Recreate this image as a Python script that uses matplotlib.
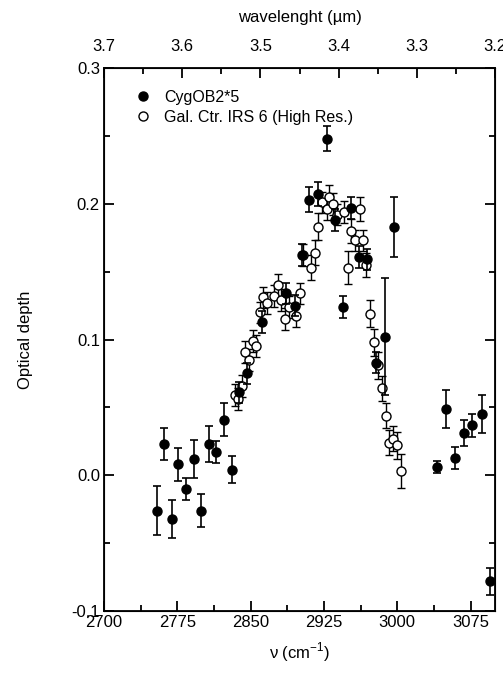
import numpy as np
import matplotlib.pyplot as plt
from matplotlib.lines import Line2D
from matplotlib.ticker import MultipleLocator, FixedLocator, FuncFormatter

plt.rcParams['font.family'] = ['Liberation Sans', 'DejaVu Sans']
plt.rcParams['mathtext.fontset'] = 'custom'
plt.rcParams['mathtext.rm'] = 'Liberation Sans'

# CygOB2*5 (filled)
cyg_nu = [2754, 2761.7, 2769, 2776, 2784, 2791.7, 2799.5, 2807, 2815, 2823, 2830.5,
          2838, 2846, 2862, 2886, 2895.6, 2903, 2910, 2919, 2927.7, 2936.5, 2944.5,
          2952.6, 2961, 2969, 2978, 2987, 2996.5, 3041, 3050, 3059, 3068, 3077,
          3086.5, 3095]
cyg_tau = [-0.026, 0.023, -0.032, 0.008, -0.010, 0.012, -0.026, 0.023, 0.017, 0.041, 0.004,
           0.061, 0.075, 0.113, 0.134, 0.125, 0.162, 0.203, 0.207, 0.248, 0.188, 0.124,
           0.197, 0.161, 0.159, 0.083, 0.102, 0.183, 0.006, 0.049, 0.013, 0.031, 0.037,
           0.045, -0.078]
cyg_err = [0.018, 0.012, 0.014, 0.012, 0.008, 0.014, 0.012, 0.013, 0.008, 0.012, 0.010,
           0.008, 0.008, 0.008, 0.008, 0.008, 0.008, 0.009, 0.009, 0.009, 0.008, 0.008,
           0.008, 0.008, 0.008, 0.008, 0.043, 0.022, 0.0045, 0.014, 0.008, 0.0095, 0.0085,
           0.014, 0.010]

# Gal. Ctr. IRS 6 (open)
gc_nu = [2834, 2837, 2841, 2844, 2848.6, 2852.7, 2855, 2859.5, 2863, 2867, 2874, 2878,
         2881.5, 2885.6, 2888.8, 2896.3, 2900.2, 2903.5, 2911.5, 2915.5, 2919, 2923,
         2927.7, 2930.5, 2934, 2938.5, 2945.5, 2949.5, 2953, 2957, 2961.5, 2965, 2968,
         2972.6, 2976, 2980.5, 2984.5, 2988, 2991.7, 2996, 3000, 3003.7]
gc_tau = [0.059, 0.056, 0.066, 0.091, 0.085, 0.099, 0.095, 0.120, 0.131, 0.127, 0.132, 0.140,
          0.129, 0.115, 0.124, 0.117, 0.134, 0.162, 0.153, 0.164, 0.183, 0.201,
          0.196, 0.205, 0.200, 0.192, 0.194, 0.153, 0.180, 0.173, 0.196, 0.173, 0.155,
          0.119, 0.098, 0.081, 0.064, 0.044, 0.024, 0.027, 0.022, 0.003]
gc_err = [0.008, 0.008, 0.008, 0.008, 0.008, 0.008, 0.008, 0.008, 0.008, 0.008, 0.008, 0.008,
          0.008, 0.008, 0.008, 0.008, 0.008, 0.008, 0.009, 0.009, 0.010, 0.008,
          0.008, 0.009, 0.008, 0.008, 0.008, 0.012, 0.009, 0.008, 0.009, 0.008, 0.009,
          0.010, 0.010, 0.010, 0.009, 0.009, 0.009, 0.009, 0.010, 0.0125]

fig = plt.figure(figsize=(5.03, 6.73), dpi=100)
ax = fig.add_axes([0.207, 0.092, 0.777, 0.807])

ax.errorbar(gc_nu, gc_tau, yerr=gc_err, fmt='o', mfc='white', mec='black', mew=1.0,
            ms=6.5, ecolor='black', elinewidth=1.0, capsize=3, capthick=1.0, zorder=2)
ax.errorbar(cyg_nu, cyg_tau, yerr=cyg_err, fmt='o', mfc='black', mec='black',
            ms=6.5, ecolor='black', elinewidth=1.2, capsize=3, capthick=1.2, zorder=3)

ax.set_xlim(2700, 3100)
ax.set_ylim(-0.1, 0.3)
ax.xaxis.set_major_locator(FixedLocator([2700, 2775, 2850, 2925, 3000, 3075]))
ax.xaxis.set_minor_locator(FixedLocator(np.arange(2737.5, 3100, 75)))
ax.yaxis.set_major_locator(MultipleLocator(0.1))
ax.yaxis.set_minor_locator(MultipleLocator(0.05))
ax.yaxis.set_major_formatter(FuncFormatter(lambda v, p: '%.1f' % v))
ax.tick_params(which='both', direction='in', right=True, width=1.3, labelsize=12)
ax.tick_params(which='major', length=7)
ax.tick_params(which='minor', length=4)
ax.tick_params(axis='x', pad=3)
ax.tick_params(axis='y', pad=3)
for s in ax.spines.values():
    s.set_linewidth(1.3)

ax.set_xlabel('\u03bd (cm$^{-1}$)', fontsize=12, labelpad=7)
ax.set_ylabel('Optical depth', fontsize=12, labelpad=28)

top = ax.twiny()
top.set_xlim(3.7, 3.2)
top.xaxis.set_major_locator(MultipleLocator(0.1))
top.xaxis.set_minor_locator(MultipleLocator(0.05))
top.tick_params(which='both', direction='in', width=1.3, labelsize=12, pad=10)
top.tick_params(which='major', length=7)
top.tick_params(which='minor', length=4)
top.set_xlabel('wavelenght (\u00b5m)', fontsize=12, labelpad=12)

handles = [Line2D([], [], ls='none', marker='o', mfc='black', mec='black', ms=6.5),
           Line2D([], [], ls='none', marker='o', mfc='white', mec='black', mew=1.0, ms=6.5)]
ax.legend(handles, ['CygOB2*5', 'Gal. Ctr. IRS 6 (High Res.)'], loc='upper left',
          frameon=False, fontsize=11.5, handletextpad=0.6, handlelength=1.5,
          labelspacing=0.3, bbox_to_anchor=(0.04, 0.98), borderaxespad=0.3)

fig.savefig('out.png', dpi=100)
